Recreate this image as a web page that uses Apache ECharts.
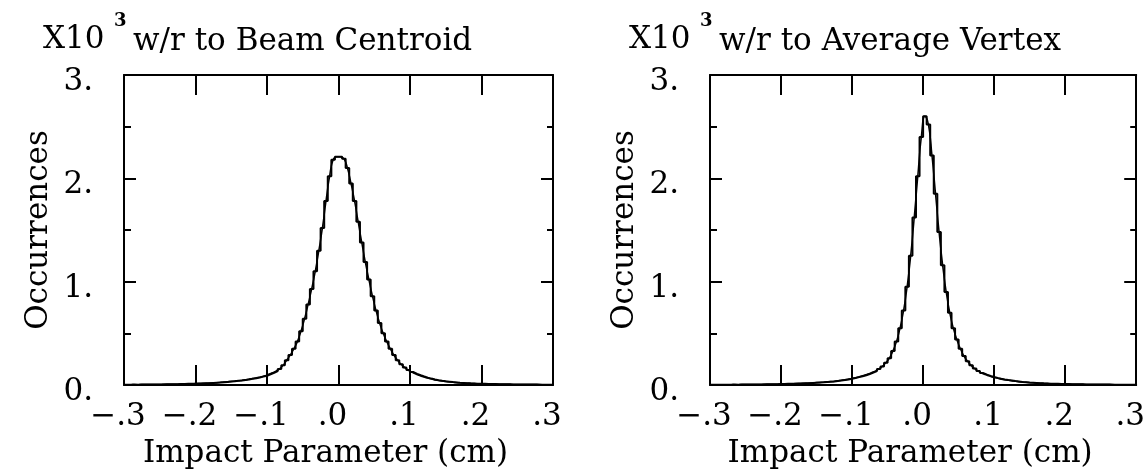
<!DOCTYPE html>
<html>
<head>
<meta charset="utf-8">
<script src="https://cdn.jsdelivr.net/npm/echarts@6/dist/echarts.min.js"></script>
<style>
  html, body { margin: 0; padding: 0; background: #fff; }
  #chart { width: 1148px; height: 474px; }
</style>
</head>
<body>
<div id="chart"></div>
<script>
// histogram bins: 120 bins of 0.005 cm from -0.3 to 0.3
var binStart = -0.3;
var binWidth = 0.005;
var xTicks = [-0.3, -0.2, -0.1, 0.0, 0.1, 0.2, 0.3];
var yTicks = [0, 1, 2, 3];
var panelTitles = ["w/r to Beam Centroid", "w/r to Average Vertex"];

// occurrences (x10^3), w/r to beam centroid
var beamCentroid = [
  0.003, 0.002, 0.004, 0.003, 0.004, 0.004, 0.005, 0.004, 0.006, 0.005,
  0.006, 0.007, 0.007, 0.008, 0.008, 0.009, 0.010, 0.011, 0.012, 0.013,
  0.014, 0.015, 0.017, 0.018, 0.020, 0.022, 0.024, 0.027, 0.030, 0.033,
  0.036, 0.040, 0.044, 0.049, 0.054, 0.060, 0.066, 0.073, 0.081, 0.090,
  0.104, 0.118, 0.135, 0.156, 0.19,
  0.24, 0.29, 0.35, 0.42, 0.52,
  0.64, 0.78, 0.93, 1.10, 1.30,
  1.52, 1.78, 2.02, 2.18, 2.21,
  2.21, 2.19, 2.10, 1.95, 1.78,
  1.58, 1.38, 1.19, 1.02, 0.86,
  0.72, 0.60, 0.50, 0.42, 0.35,
  0.29, 0.24, 0.20, 0.17, 0.145,
  0.125, 0.108, 0.094, 0.082, 0.071, 0.062, 0.054, 0.047, 0.041, 0.036,
  0.032, 0.028, 0.025, 0.022, 0.020, 0.018, 0.016, 0.015, 0.013, 0.012,
  0.011, 0.010, 0.010, 0.009, 0.008, 0.008, 0.007, 0.007, 0.006, 0.006,
  0.005, 0.005, 0.005, 0.004, 0.004, 0.004, 0.003, 0.003, 0.003, 0.003
];

// occurrences (x10^3), w/r to average vertex
var averageVertex = [
  0.002, 0.002, 0.003, 0.002, 0.003, 0.003, 0.004, 0.003, 0.004, 0.004,
  0.005, 0.005, 0.005, 0.006, 0.006, 0.007, 0.007, 0.008, 0.008, 0.009,
  0.010, 0.011, 0.012, 0.013, 0.014, 0.015, 0.017, 0.018, 0.020, 0.022,
  0.024, 0.026, 0.029, 0.032, 0.035, 0.039, 0.043, 0.048, 0.054, 0.061,
  0.068, 0.076, 0.085, 0.095, 0.106,
  0.12, 0.135, 0.155, 0.18, 0.215,
  0.26, 0.33, 0.42, 0.55, 0.72,
  0.95, 1.25, 1.62, 2.02, 2.40,
  2.60, 2.52, 2.22, 1.85, 1.48,
  1.16, 0.90, 0.70, 0.55, 0.44,
  0.35, 0.28, 0.23, 0.19, 0.16,
  0.135, 0.115, 0.100, 0.088, 0.078,
  0.069, 0.061, 0.054, 0.048, 0.043, 0.038, 0.034, 0.030, 0.027, 0.024,
  0.022, 0.020, 0.018, 0.016, 0.015, 0.013, 0.012, 0.011, 0.010, 0.009,
  0.009, 0.008, 0.008, 0.007, 0.007, 0.006, 0.006, 0.005, 0.005, 0.005,
  0.004, 0.004, 0.004, 0.003, 0.003, 0.003, 0.003, 0.002, 0.002, 0.002
];

var FONT = '"DejaVu Serif", "Liberation Serif", serif';
var FS = 31;
var INK = "#000";

var grids = [
  { left: 124, top: 75, width: 429, height: 318 },
  { left: 710, top: 75, width: 428, height: 318 }
];

function xLabel(v) {
  if (Math.abs(v) < 1e-9) return ".0";
  var s = Math.abs(v).toFixed(1).replace(/^0/, "");
  return (v < 0 ? "\u2212" : "") + s;
}

// step line: left edge of each bin, plus closing point at the last edge
function stepData(values) {
  var pts = values.map(function(v, i) {
    return [binStart + i * binWidth, v];
  });
  pts.push([binStart + values.length * binWidth, values[values.length - 1]]);
  return pts;
}

function centerData(values) {
  return values.map(function(v, i) {
    return [binStart + (i + 0.5) * binWidth, v];
  });
}

var axisLine = { show: true, onZero: false, lineStyle: { color: INK, width: 2 } };
var tickLine = { color: INK, width: 2 };

var xAxes = [], yAxes = [], series = [], graphics = [];

[beamCentroid, averageVertex].forEach(function(values, p) {
  var g = grids[p];
  // bottom x axis with labels
  xAxes.push({
    gridIndex: p, type: "value", position: "bottom",
    min: xTicks[0], max: xTicks[xTicks.length - 1], interval: 0.1,
    axisLine: axisLine,
    axisTick: { inside: true, length: 20, lineStyle: tickLine },
    axisLabel: {
      color: INK, fontFamily: FONT, fontSize: FS, margin: 16,
      padding: [0, 12, 0, 0], formatter: xLabel
    },
    splitLine: { show: false },
    name: "Impact Parameter (cm)", nameLocation: "middle", nameGap: 53,
    nameTextStyle: { color: INK, fontFamily: FONT, fontSize: FS, padding: [0, 26, 0, 0] }
  });
  // top mirror
  xAxes.push({
    gridIndex: p, type: "value", position: "top",
    min: xTicks[0], max: xTicks[xTicks.length - 1], interval: 0.1,
    axisLine: axisLine,
    axisTick: { inside: true, length: 20, lineStyle: tickLine },
    axisLabel: { show: false },
    splitLine: { show: false }
  });
  yAxes.push({
    gridIndex: p, type: "value", position: "left",
    min: yTicks[0], max: yTicks[yTicks.length - 1], interval: 1,
    axisLine: axisLine,
    axisTick: { inside: true, length: 12, lineStyle: tickLine },
    minorTick: { show: true, splitNumber: 2, length: 7, lineStyle: tickLine },
    axisLabel: {
      color: INK, fontFamily: FONT, fontSize: FS, margin: 31,
      verticalAlign: "top", lineHeight: 14,
      formatter: function(v) { return v + "."; }
    },
    splitLine: { show: false },
    name: "Occurrences", nameLocation: "middle", nameGap: 70, nameRotate: 90,
    nameTextStyle: { color: INK, fontFamily: FONT, fontSize: FS }
  });
  yAxes.push({
    gridIndex: p, type: "value", position: "right",
    min: yTicks[0], max: yTicks[yTicks.length - 1], interval: 1,
    axisLine: axisLine,
    axisTick: { inside: true, length: 12, lineStyle: tickLine },
    minorTick: { show: true, splitNumber: 2, length: 6, lineStyle: tickLine },
    axisLabel: { show: false },
    splitLine: { show: false }
  });

  series.push({
    type: "line", step: "end", xAxisIndex: p * 2, yAxisIndex: p * 2,
    data: stepData(values), showSymbol: false, silent: true,
    lineStyle: { color: INK, width: 2 }
  });
  series.push({
    type: "line", smooth: true, xAxisIndex: p * 2, yAxisIndex: p * 2,
    data: centerData(values), showSymbol: false, silent: true,
    lineStyle: { color: INK, width: 1.5 }
  });

  graphics.push({
    type: "text", left: g.left - 81, top: 24,
    style: { text: "X10", fill: INK, font: FS + "px " + FONT }
  });
  graphics.push({
    type: "text", left: g.left - 10, top: 12,
    style: { text: "3", fill: INK, font: "bold 18px " + FONT }
  });
  graphics.push({
    type: "text", left: g.left + 9, top: 26,
    style: { text: panelTitles[p], fill: INK, font: FS + "px " + FONT }
  });
});

var chart = echarts.init(document.getElementById("chart"));
chart.setOption({
  backgroundColor: "#fff",
  animation: false,
  grid: grids,
  xAxis: xAxes,
  yAxis: yAxes,
  series: series,
  graphic: graphics
});
</script>
</body>
</html>
